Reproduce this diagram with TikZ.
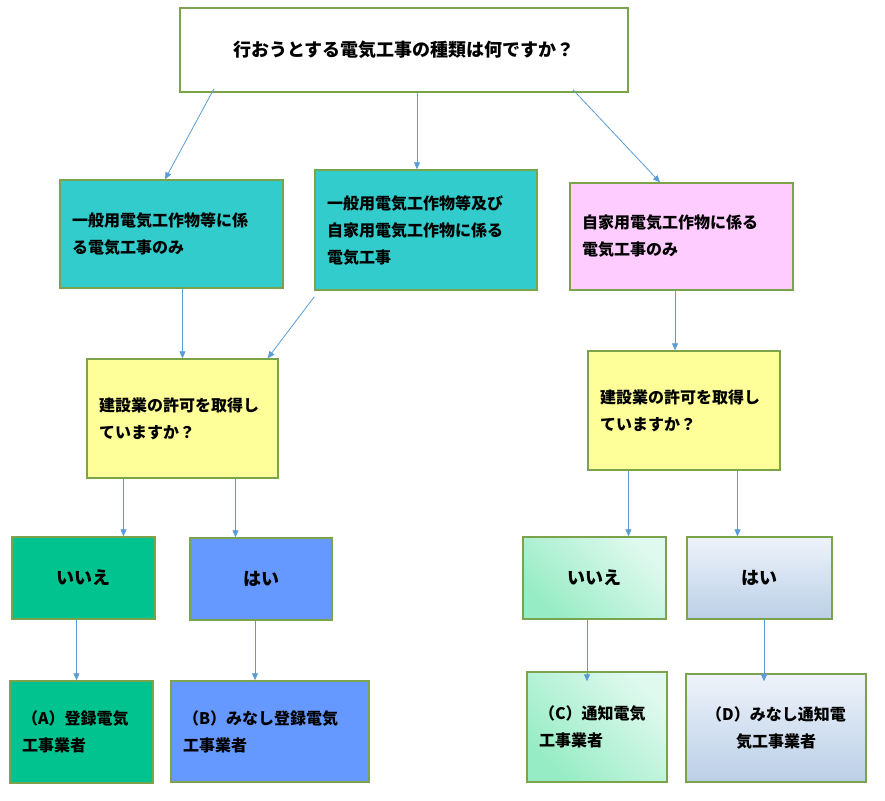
\documentclass[tikz,border=0pt]{standalone}
\usepackage{fontspec}
\setmainfont{Noto Sans CJK JP}
\usetikzlibrary{arrows.meta}
\definecolor{boxline}{HTML}{7BA34B}
\definecolor{arrline}{HTML}{5B9BD5}
\definecolor{tealbox}{HTML}{33CCCC}
\definecolor{pinkbox}{HTML}{FFCCFF}
\definecolor{yelbox}{HTML}{FFFF99}
\definecolor{greenbox}{HTML}{00C38F}
\definecolor{bluebox}{HTML}{6699FF}
\definecolor{mintdark}{HTML}{96ECC4}
\definecolor{mintlight}{HTML}{E0F9EF}
\definecolor{skylight}{HTML}{EEF3FA}
\definecolor{skydark}{HTML}{BACFE7}

\begin{document}
\begin{tikzpicture}[x=1pt,y=-1pt,
  box/.style={draw=boxline,line width=1.4pt,inner xsep=12pt,inner ysep=0pt,
    font=\fontsize{16}{27}\selectfont\bfseries},
  txt/.style={align=left,text width=#1},
  ans/.style={font=\fontsize{18}{24}\selectfont\bfseries,minimum width=#1,minimum height=82pt},
  mint/.style={top color=mintlight,bottom color=mintdark,shading angle=-45},
  sky/.style={top color=skylight,bottom color=skydark},
  arr/.style={draw=arrline,line width=0.8pt,-{Triangle[length=7pt,width=6pt]}}]
\useasboundingbox (0,0) rectangle (885,800);
% question
\node (q) [box,fill=white,minimum width=448pt,minimum height=84pt,
  font=\fontsize{18}{24}\selectfont\bfseries] at (404,50) {行おうとする電気工事の種類は何ですか？};
% kind of work
\node (g1) [box,fill=tealbox,txt=199pt,minimum height=108pt] at (171.5,234)
  {一般用電気工作物等に係\\る電気工事のみ};
\node (g2) [box,fill=tealbox,txt=198pt,minimum height=120pt] at (426,230)
  {一般用電気工作物等及び\\自家用電気工作物に係る\\電気工事};
\node (g3) [box,fill=pinkbox,txt=199pt,minimum height=107pt] at (681.5,236.5)
  {自家用電気工作物に係る\\電気工事のみ};
% permit?
\node (kL) [box,fill=yelbox,txt=167pt,minimum height=119pt] at (182.5,418.5)
  {建設業の許可を取得し\\ていますか？};
\node (kR) [box,fill=yelbox,txt=168pt,minimum height=119pt] at (684,410.5)
  {建設業の許可を取得し\\ていますか？};
% yes / no
\node (nL) [box,fill=greenbox,ans=143pt] at (83.5,578) {いいえ};
\node (yL) [box,fill=bluebox,ans=142pt] at (261,579) {はい};
\node (nR) [box,mint,ans=143pt] at (594.5,578) {いいえ};
\node (yR) [box,sky,ans=145pt] at (759.5,578) {はい};
% results
\node (rA) [box,fill=greenbox,txt=119pt,minimum height=102pt] at (81.5,732)
  {（A）登録電気\\工事業者};
\node (rB) [box,fill=bluebox,txt=174pt,minimum height=101pt] at (270,731.5)
  {（B）みなし登録電気\\工事業者};
\node (rC) [box,mint,txt=116pt,minimum height=110pt] at (597,727)
  {（C）通知電気\\工事業者};
\node (rD) [box,sky,txt=156pt,align=center,minimum height=108pt] at (776,728)
  {（D）みなし通知電\\気工事業者};
%
\draw[arr] ([xshift=-190,yshift=4]q.south) -- ([xshift=-6.5]g1.north);
\draw[arr] ([xshift=-9]g2.north |- q.south) -- ([xshift=-9]g2.north);
\draw[arr] ([xshift=169,yshift=3]q.south) -- ([xshift=-21.5]g3.north);
\draw[arr] (kL.north |- g1.south) -- (kL.north);
\draw[arr] ([yshift=-6]g2.south west) -- ([xshift=-11]kL.north east);
\draw[arr] ([xshift=-9]kR.north |- g3.south) -- ([xshift=-9]kR.north);
\draw[arr] ([xshift=40]nL.north |- kL.south) -- ([xshift=40]nL.north);
\draw[arr] ([xshift=-25.5]yL.north |- kL.south) -- ([xshift=-25.5]yL.north);
\draw[arr] ([xshift=34]nR.north |- kR.south) -- ([xshift=34]nR.north);
\draw[arr] ([xshift=-22]yR.north |- kR.south) -- ([xshift=-22]yR.north);
\draw[arr] ([xshift=-5]rA.north |- nL.south) -- ([xshift=-5]rA.north);
\draw[arr] ([xshift=-15]rB.north |- yL.south) -- ([xshift=-15]rB.north);
\draw[arr] ([xshift=-10]rC.north |- nR.south) -- ([xshift=-10,yshift=-10]rC.north);
\draw[arr] ([xshift=-12]rD.north |- yR.south) -- ([xshift=-12,yshift=-8]rD.north);
\end{tikzpicture}
\end{document}
